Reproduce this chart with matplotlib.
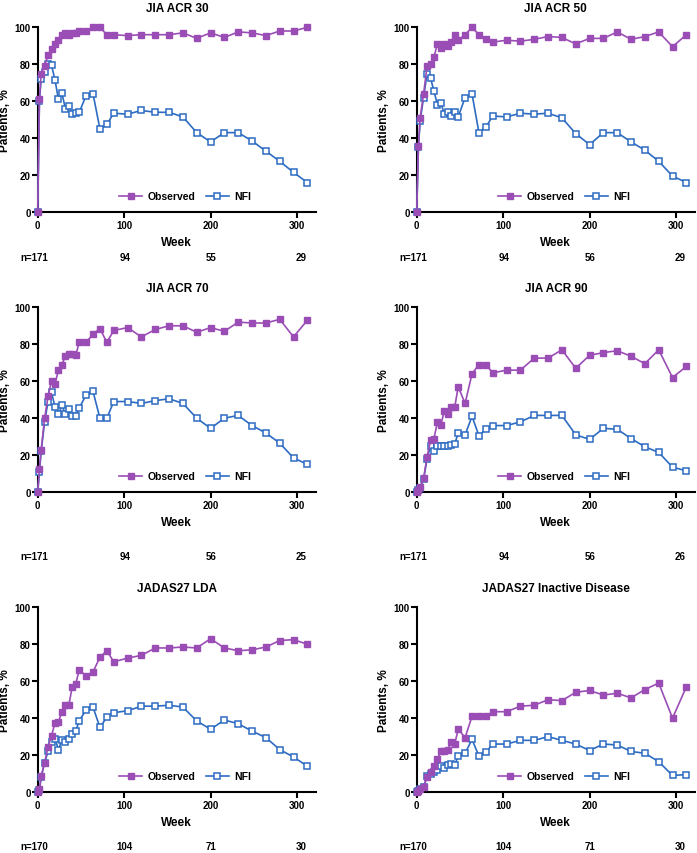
import matplotlib
matplotlib.use('Agg')
import matplotlib.pyplot as plt
import matplotlib.transforms as mtransforms

plt.rcParams['font.family'] = ['Liberation Sans', 'DejaVu Sans']
plt.rcParams['font.weight'] = 'bold'

# weeks of assessment
weeks = [0, 2, 4, 8, 12, 16, 20, 24, 28, 32, 36, 40, 44, 48, 56, 64, 72, 80, 88,
         104, 120, 136, 152, 168, 184, 200, 216, 232, 248, 264, 280, 296, 312]

titles = ['JIA ACR 30', 'JIA ACR 50', 'JIA ACR 70', 'JIA ACR 90',
          'JADAS27 LDA', 'JADAS27 Inactive Disease']

# observed values, %
obs_acr30 = [0, 61, 75, 79, 85, 88, 91, 93, 96, 97, 96, 97, 97, 98, 98, 100, 100, 96, 96,
             95.5, 96, 96, 96, 97, 94, 97, 94.5, 97.5, 97, 95.5, 98, 98, 100]
obs_acr50 = [0, 36, 51, 64, 79, 80, 84, 91, 89, 91, 90, 92, 96, 93, 96, 100, 96, 93.5, 92,
             93, 92.5, 93.5, 95, 94.5, 91, 94, 94, 97.5, 93.5, 95, 97.5, 89.5, 96]
obs_acr70 = [0, 12.5, 23, 40, 52, 60, 58.5, 66, 69, 73.5, 75, 75, 74, 81, 81, 85.5, 88.5, 81, 87.5,
             89, 84, 88, 90, 90, 86.5, 89, 87, 92, 91.5, 91.5, 93.5, 84, 93]
obs_acr90 = [0, 1, 3, 7.5, 19, 28, 29, 38, 36.5, 44, 42, 46, 46, 57, 48, 64, 69, 69, 64.5,
             66, 66, 72.5, 72.5, 77, 67, 74, 75.5, 76.5, 73.5, 69.5, 77, 62, 68]
obs_lda = [0, 1.5, 8.5, 16, 24.5, 30.5, 37.5, 38, 43.5, 47, 47, 57, 58.5, 66, 63, 65, 73, 76.5, 70.5,
           72.5, 74, 78, 78, 78.5, 78, 83, 78, 76.5, 77, 78.5, 82, 82.5, 80]
obs_inactive = [0, 0.5, 1.5, 3, 8, 11, 14, 18, 22, 22, 23, 27, 26, 34, 29.5, 41, 41, 41, 43.5,
                43.5, 46.5, 47, 50, 49.5, 54, 55, 52.5, 53.5, 51, 55.5, 59, 40, 57]

# NFI values, %
nfi_acr30 = [0, 60, 72, 76, 80, 79.5, 71.5, 61, 64.5, 56, 57.5, 53, 53.5, 54, 63, 64, 45, 47.5, 53.5,
             53, 55, 54, 54, 51.5, 43, 38, 43, 43, 38.5, 33, 27.5, 21.5, 16]
nfi_acr50 = [0, 35, 49.5, 62, 75, 72.5, 65.5, 58, 59, 53, 54, 52, 54, 51.5, 62, 64, 43, 46, 52,
             51.5, 53.5, 53, 53.5, 51, 42.5, 36.5, 43, 43, 38, 33.5, 27.5, 19.5, 16]
nfi_acr70 = [0, 11, 22, 38, 49, 54, 46, 42, 47, 42, 45, 41, 41, 45.5, 52.5, 54.5, 40, 40, 49,
             49, 48, 49.5, 50.5, 48, 40, 34.5, 40, 41.5, 36, 32, 26.5, 18.5, 15]
nfi_acr90 = [0, 1, 2, 7, 18, 25, 22.5, 25, 25, 25, 25, 25.5, 26, 32, 31, 41, 30.5, 34, 36,
             36, 38, 41.5, 41.5, 41.5, 31, 28.5, 34.5, 34, 29, 24.5, 21.5, 13.5, 11.5]
nfi_lda = [0, 1, 8, 16, 22, 27, 29, 23, 28, 27, 28.5, 31.5, 33, 38.5, 44.5, 46, 35, 40.5, 43,
           44, 46.5, 46.5, 47, 46, 38.5, 34, 39, 37, 33, 29.5, 23, 19, 14]
nfi_inactive = [0, 0.5, 1.5, 3, 8.5, 10, 11, 12, 14, 13, 14.5, 15, 14.5, 19.5, 21, 28.5, 19.5, 21.5, 26,
                26, 28, 28, 30, 28, 26, 22.5, 26, 25.5, 22, 21, 16.5, 9, 9.5]

# number of patients under the x axis
n_acr30 = ['n=171', '94', '55', '29']
n_acr50 = ['n=171', '94', '56', '29']
n_acr70 = ['n=171', '94', '56', '25']
n_acr90 = ['n=171', '94', '56', '26']
n_lda = ['n=170', '104', '71', '30']
n_inactive = ['n=170', '104', '71', '30']
n_weeks = [0, 101, 201, 305]

observed = [obs_acr30, obs_acr50, obs_acr70, obs_acr90, obs_lda, obs_inactive]
nfi = [nfi_acr30, nfi_acr50, nfi_acr70, nfi_acr90, nfi_lda, nfi_inactive]
n_labels = [n_acr30, n_acr50, n_acr70, n_acr90, n_lda, n_inactive]

purple = '#9B4DB6'
blue = '#2D6CC2'

W, H = 697, 854
fig = plt.figure(figsize=(W / 100, H / 100), dpi=100)

lefts = [37.7, 416.7]
tops = [28.3, 308.3, 608.3]
ax_w, ax_h = 278.3, 184.8
n_offset = [45, 63.5, 54]  # px below axis bottom

for i in range(6):
    row, col = i // 2, i % 2
    x0, y0 = lefts[col], tops[row]
    ax = fig.add_axes([x0 / W, 1 - (y0 + ax_h) / H, ax_w / W, ax_h / H])

    ax.plot(weeks, nfi[i], color=blue, linewidth=1.2, marker='s', markersize=4.6,
            markerfacecolor='white', markeredgecolor=blue, markeredgewidth=1.1,
            label='NFI', zorder=3, clip_on=False)
    ax.plot(weeks, observed[i], color=purple, linewidth=1.2, marker='s', markersize=5,
            markerfacecolor=purple, markeredgecolor=purple,
            label='Observed', zorder=4, clip_on=False)

    ax.set_xlim(0, 322)
    ax.set_ylim(0, 100)
    ax.set_xticks([0, 100, 200, 300])
    ax.set_yticks([0, 20, 40, 60, 80, 100])
    for s in ['top', 'right']:
        ax.spines[s].set_visible(False)
    for s in ['left', 'bottom']:
        ax.spines[s].set_linewidth(1.5)
    ax.tick_params(axis='both', length=4.5, width=1.5, labelsize=7, pad=1)
    ax.tick_params(axis='y', pad=0.5)

    ax.set_title(titles[i], fontsize=8.5, fontweight='bold', pad=12)
    ax.set_ylabel('Patients, %', fontsize=8.5, fontweight='bold')
    ax.yaxis.set_label_coords(-27 / ax_w, 0.5)

    ax.text(0.5, -29.5 / ax_h, 'Week', transform=ax.transAxes, ha='center', va='center',
            fontsize=8.5, fontweight='bold')

    trans = mtransforms.blended_transform_factory(ax.transData, ax.transAxes)
    for j, (wk, lab) in enumerate(zip(n_weeks, n_labels[i])):
        if j == 0:
            ax.text(wk + 12, -n_offset[row] / ax_h, lab, transform=trans, ha='right',
                    va='center', fontsize=7, fontweight='bold')
        else:
            ax.text(wk, -n_offset[row] / ax_h, lab, transform=trans, ha='center',
                    va='center', fontsize=7, fontweight='bold')

    handles, labels = ax.get_legend_handles_labels()
    ax.legend(handles[::-1], labels[::-1], ncol=2, frameon=False, fontsize=7.5,
              loc='center', bbox_to_anchor=(0.53, 0.085), handlelength=2.2,
              columnspacing=1.0, handletextpad=0.5, borderaxespad=0)

fig.savefig('out.png', dpi=100)
